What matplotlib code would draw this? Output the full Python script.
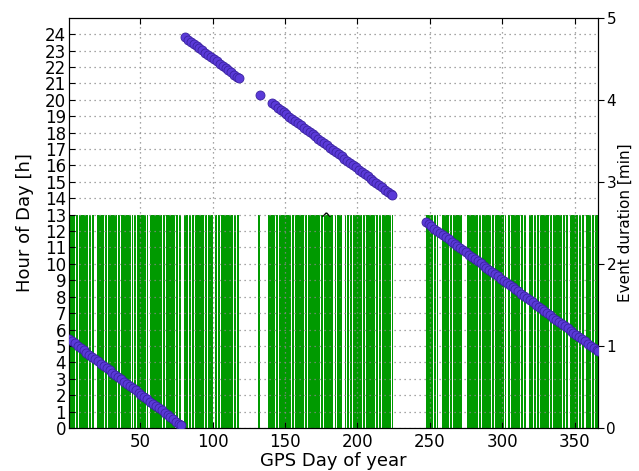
import matplotlib
matplotlib.use("Agg")
import matplotlib.pyplot as plt

# ---- data ----
# scatter: hour of day of event vs GPS day of year
dayA = [1, 3, 5, 7, 9, 11, 13, 15, 17, 19, 21, 23, 25, 27, 29, 31, 33, 35, 37, 39,
        41, 43, 45, 47, 49, 51, 53, 55, 57, 59, 61, 63, 65, 67, 69, 71, 73, 75, 77, 78]
hourA = [5.42, 5.28, 5.15, 5.01, 4.87, 4.74, 4.60, 4.47, 4.33, 4.19, 4.06, 3.92, 3.79,
         3.65, 3.51, 3.38, 3.24, 3.11, 2.97, 2.83, 2.70, 2.56, 2.43, 2.29, 2.15, 2.02,
         1.88, 1.75, 1.61, 1.47, 1.34, 1.20, 1.07, 0.93, 0.79, 0.66, 0.52, 0.39, 0.25, 0.18]
dayB = [81, 83, 85, 87, 89, 91, 93, 95, 97, 99, 101, 103, 105, 107, 109, 111, 113, 115,
        117, 118, 133]
hourB = [23.81, 23.67, 23.54, 23.41, 23.27, 23.14, 23.01, 22.88, 22.74, 22.61, 22.48,
         22.34, 22.21, 22.08, 21.94, 21.81, 21.68, 21.54, 21.41, 21.34, 20.30]
dayC = [141, 143, 145, 147, 149, 151, 153, 155, 157, 159, 161, 163, 165, 167, 169, 171,
        173, 175, 177, 179, 181, 183, 185, 187, 189, 191, 193, 195, 197, 199, 201, 203,
        205, 207, 209, 211, 213, 215, 217, 219, 221, 223, 224]
hourC = [19.79, 19.66, 19.52, 19.39, 19.25, 19.12, 18.98, 18.85, 18.71, 18.58, 18.44,
         18.31, 18.17, 18.04, 17.90, 17.77, 17.63, 17.50, 17.36, 17.23, 17.09, 16.96,
         16.82, 16.69, 16.55, 16.42, 16.28, 16.15, 16.01, 15.88, 15.74, 15.61, 15.47,
         15.34, 15.20, 15.07, 14.93, 14.80, 14.66, 14.53, 14.39, 14.26, 14.19]
dayD = [247, 249, 251, 253, 255, 257, 259, 261, 263, 265, 267, 269, 271, 273, 275, 277,
        279, 281, 283, 285, 287, 289, 291, 293, 295, 297, 299, 301, 303, 305, 307, 309,
        311, 313, 315, 317, 319, 321, 323, 325, 327, 329, 331, 333, 335, 337, 339, 341,
        343, 345, 347, 349, 351, 353, 355, 357, 359, 361, 363, 365, 366]
hourD = [12.55, 12.41, 12.28, 12.15, 12.02, 11.89, 11.75, 11.62, 11.49, 11.36, 11.23,
         11.09, 10.96, 10.83, 10.70, 10.56, 10.43, 10.30, 10.17, 10.04, 9.90, 9.77,
         9.64, 9.51, 9.37, 9.24, 9.11, 8.98, 8.85, 8.71, 8.58, 8.45, 8.32, 8.19, 8.05,
         7.92, 7.79, 7.66, 7.52, 7.39, 7.26, 7.13, 7.00, 6.86, 6.73, 6.60, 6.47, 6.33,
         6.20, 6.07, 5.94, 5.81, 5.67, 5.54, 5.41, 5.28, 5.14, 5.01, 4.88, 4.75, 4.68]

# bars: runs of days (first, last) with events, and event duration [min]
bar_runs = [(1, 18), (21, 43), (45, 55), (57, 78), (81, 100), (102, 118), (132, 132),
            (139, 183), (185, 189), (192, 224), (248, 255), (259, 272), (276, 302),
            (304, 316), (319, 345), (347, 356), (358, 366)]
bar_duration = 2.6

xticks = [50, 100, 150, 200, 250, 300, 350]
hour_ticks = list(range(0, 25))
min_ticks = [0, 1, 2, 3, 4, 5]

# ---- build ----
bar_days = [d for a, b in bar_runs for d in range(a, b + 1)]
bar_heights = [bar_duration for _ in bar_days]
days = dayA + dayB + dayC + dayD
hours = hourA + hourB + hourC + hourD

fig = plt.figure(figsize=(6.39, 4.71), dpi=100)
ax = fig.add_axes([0.108, 0.0913, 0.828, 0.871])
ax2 = ax.twinx()
ax2.set_zorder(ax.get_zorder() - 1)
ax.patch.set_visible(False)

ax2.bar(bar_days, bar_heights, width=0.85, color='#009a00', linewidth=0, align='center')
ax2.text(178, 2.45, '^', ha='center', va='bottom', fontsize=11, color='black')
ax2.set_ylim(0, 5)
ax2.set_yticks(min_ticks)
ax2.set_ylabel('Event duration [min]', fontsize=11, labelpad=1)
ax2.tick_params(axis='y', labelsize=11, direction='out', length=4, pad=2)

ax.scatter(days, hours, s=42, c='#5a3ad8', edgecolors='#3a22a0', linewidths=0.6, zorder=3)
ax.set_xlim(1, 366)
ax.set_ylim(0, 25)
ax.set_yticks(hour_ticks)
ax.set_xticks(xticks)
ax.tick_params(axis='both', labelsize=12, direction='in', length=4, top=True)
ax.tick_params(axis='y', pad=2)
ax.grid(True, color='#888888', linestyle=(0, (1, 3)), linewidth=0.9)
ax.set_xlabel('GPS Day of year', fontsize=13, labelpad=1)
ax.set_ylabel('Hour of Day [h]', fontsize=13, labelpad=8)
for sp in ax.spines.values():
    sp.set_color('black')

fig.savefig('out.png', dpi=100)
